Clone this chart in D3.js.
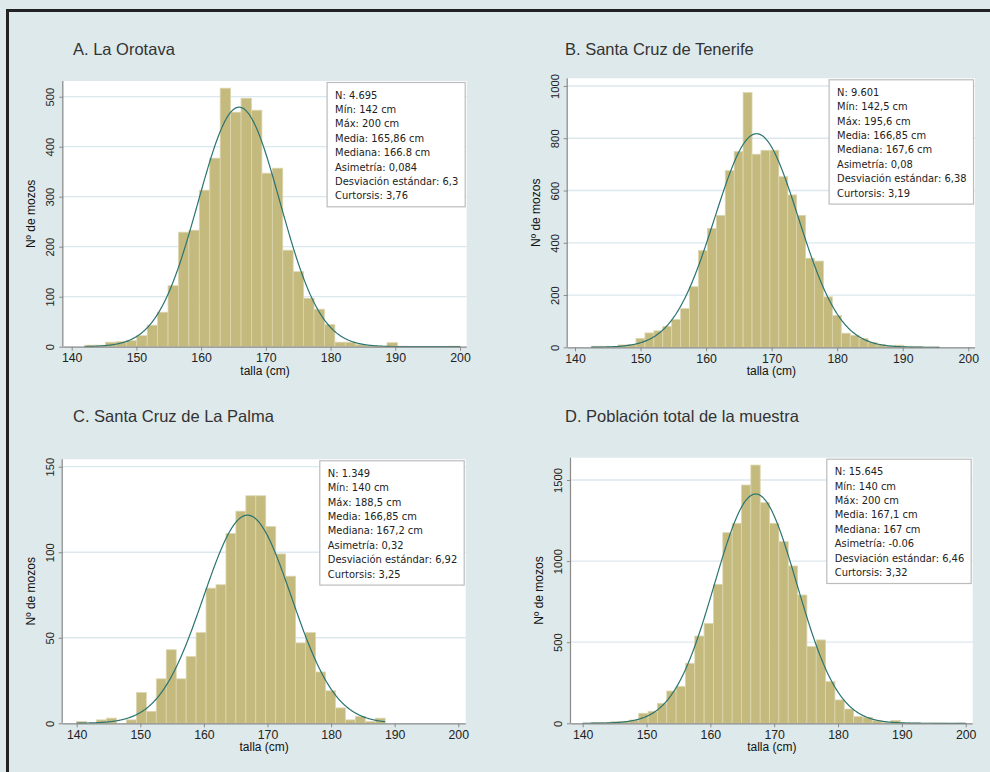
<!DOCTYPE html>
<html>
<head>
<meta charset="utf-8">
<script src="https://cdn.jsdelivr.net/npm/d3@7"></script>
<style>
  body { margin: 0; background: #dee9eb; }
  svg { display: block; }
</style>
</head>
<body>
<div id="chart"></div>
<script>
// datos
const titles = ["A. La Orotava", "B. Santa Cruz de Tenerife", "C. Santa Cruz de La Palma", "D. Población total de la muestra"];

// recuentos por intervalo (de min a max)
const countsA = [3,3,9,10,12,22,43,69,122,229,233,313,377,517,469,497,473,347,357,193,150,97,75,44,9,9,4,2,1,8,1,0,0,0,0,1];
const countsB = [4,4,3,9,11,34,55,63,80,106,148,232,370,455,505,676,749,975,739,754,754,653,583,505,341,330,193,122,54,46,33,18,10,5,8,4,2,1,1];
const countsC = [1,0,2,3,0,2,18,7,26,43,26,39,53,79,81,111,124,133,133,115,99,86,47,53,30,19,9,2,4,1,3];
const countsD = [1,4,4,10,10,20,62,74,123,199,228,370,538,616,857,1175,1233,1469,1592,1360,1233,1120,970,791,473,514,257,144,88,41,37,16,6,18,4,1,1,1,1,0,1];

const minVals = [142, 142.5, 140, 140];
const maxVals = [200, 195.6, 188.5, 200];
const nVals = [4695, 9601, 1349, 15645];
// curva normal superpuesta
const curveMean = [165.86, 167.7, 166.85, 167.1];
const curveSd = [6.3, 6.38, 6.92, 6.46];

const xTicks = [140, 150, 160, 170, 180, 190, 200];
const yTicksA = [0, 100, 200, 300, 400, 500];
const yTicksB = [0, 200, 400, 600, 800, 1000];
const yTicksC = [0, 50, 100, 150];
const yTicksD = [0, 500, 1000, 1500];

const statsA = ["N: 4.695","Mín: 142 cm","Máx: 200 cm","Media: 165,86 cm","Mediana: 166.8 cm","Asimetría: 0,084","Desviación estándar: 6,3","Curtorsis: 3,76"];
const statsB = ["N: 9.601","Mín: 142,5 cm","Máx: 195,6 cm","Media: 166,85 cm","Mediana: 167,6 cm","Asimetría: 0,08","Desviación estándar: 6,38","Curtorsis: 3,19"];
const statsC = ["N: 1.349","Mín: 140 cm","Máx: 188,5 cm","Media: 166,85 cm","Mediana: 167,2 cm","Asimetría: 0,32","Desviación estándar: 6,92","Curtorsis: 3,25"];
const statsD = ["N: 15.645","Mín: 140 cm","Máx: 200 cm","Media: 167,1 cm","Mediana: 167 cm","Asimetría: -0.06","Desviación estándar: 6,46","Curtorsis: 3,32"];

const counts = [countsA, countsB, countsC, countsD];
const yTicks = [yTicksA, yTicksB, yTicksC, yTicksD];
const stats = [statsA, statsB, statsC, statsD];

// posición de cada panel
const layout = [
  {left: 63.3, right: 466.7, top: 81, bottom: 346.7, xa: 71.7, xb: 460, yt: 96.7, tx: 73, ty: 55},
  {left: 567.7, right: 975, top: 78.3, bottom: 347.3, xa: 575, xb: 968.3, yt: 86, tx: 565, ty: 55},
  {left: 62.7, right: 465.7, top: 459.3, bottom: 723.3, xa: 76.7, xb: 458.3, yt: 466.7, tx: 73, ty: 421.7},
  {left: 571, right: 972.7, top: 457.7, bottom: 723.3, xa: 582.7, xb: 965.7, yt: 480, tx: 565, ty: 421.7}
];

const width = 990, height = 772;
const svg = d3.select("#chart").append("svg")
  .attr("width", width)
  .attr("height", height);

svg.append("rect").attr("width", width).attr("height", height).attr("fill", "#dee9eb");

// marco
svg.append("path")
  .attr("d", "M7.5,772 V10.5 H990")
  .attr("fill", "none")
  .attr("stroke", "#222")
  .attr("stroke-width", 3);

const sans = "'Liberation Sans', Arial, sans-serif";
const cond = "'DejaVu Sans Condensed', 'DejaVu Sans', sans-serif";

layout.forEach((L, i) => {
  const g = svg.append("g");
  const data = counts[i];
  const ticks = yTicks[i];
  const binW = (maxVals[i] - minVals[i]) / data.length;

  const x = d3.scaleLinear().domain([140, 200]).range([L.xa, L.xb]);
  const y = d3.scaleLinear().domain([0, ticks[ticks.length - 1]]).range([L.bottom, L.yt]);

  g.append("text")
    .attr("x", L.tx).attr("y", L.ty)
    .attr("font-family", sans)
    .attr("font-size", 16.5)
    .attr("fill", "#333")
    .text(titles[i]);

  g.append("rect")
    .attr("x", L.left).attr("y", L.top)
    .attr("width", L.right - L.left).attr("height", L.bottom - L.top)
    .attr("fill", "#fff");

  // rejilla
  g.selectAll("line.grid")
    .data(ticks.filter(t => t > 0))
    .enter().append("line")
    .attr("class", "grid")
    .attr("x1", L.left).attr("x2", L.right)
    .attr("y1", d => y(d)).attr("y2", d => y(d))
    .attr("stroke", "#dbe8ee")
    .attr("stroke-width", 1.3);

  // barras
  g.selectAll("rect.bar")
    .data(data)
    .enter().append("rect")
    .attr("class", "bar")
    .attr("x", (d, k) => x(minVals[i] + k * binW))
    .attr("width", x(140 + binW) - x(140))
    .attr("y", d => y(d))
    .attr("height", d => L.bottom - y(d))
    .attr("fill", "#c4ba7e")
    .attr("stroke", "#dcd6b0")
    .attr("stroke-width", 0.8);

  // curva normal
  const pts = d3.range(minVals[i], maxVals[i] + 0.001, 0.1);
  const scaleF = nVals[i] * binW / (curveSd[i] * Math.sqrt(2 * Math.PI));
  const line = d3.line()
    .x(d => x(d))
    .y(d => y(scaleF * Math.exp(-0.5 * Math.pow((d - curveMean[i]) / curveSd[i], 2))));
  g.append("path")
    .datum(pts)
    .attr("d", line)
    .attr("fill", "none")
    .attr("stroke", "#2b7470")
    .attr("stroke-width", 1.2);

  // ejes
  const xAxis = g.append("g")
    .attr("transform", `translate(0,${L.bottom})`)
    .call(d3.axisBottom(x).tickValues(xTicks).tickFormat(d3.format("d")).tickSize(4).tickPadding(3).tickSizeOuter(0));
  xAxis.select(".domain").attr("d", `M${L.left},0.5H${L.right}`);
  xAxis.selectAll("text").attr("font-family", sans).attr("font-size", 12.3).attr("fill", "#222");

  const yAxis = g.append("g")
    .attr("transform", `translate(${L.left},0)`)
    .call(d3.axisLeft(y).tickValues(ticks).tickFormat(d3.format("d")).tickSize(4).tickSizeOuter(0));
  yAxis.select(".domain").attr("d", `M-0.5,${L.top}V${L.bottom}`);
  yAxis.selectAll("text")
    .attr("font-family", sans).attr("font-size", 11.3).attr("fill", "#222")
    .attr("text-anchor", "middle")
    .attr("x", null).attr("dy", null)
    .attr("transform", "translate(-9,0) rotate(-90)");

  g.selectAll(".domain").attr("stroke", "#8a8a8a").attr("stroke-width", 1.2);
  g.selectAll(".tick line").attr("stroke", "#8a8a8a");

  g.append("text")
    .attr("x", (L.left + L.right) / 2).attr("y", L.bottom + 28)
    .attr("text-anchor", "middle")
    .attr("font-family", sans).attr("font-size", 12)
    .attr("fill", "#111")
    .text("talla (cm)");

  g.append("text")
    .attr("transform", `translate(${L.left - 28},${(L.top + L.bottom) / 2}) rotate(-90)`)
    .attr("text-anchor", "middle")
    .attr("font-family", sans).attr("font-size", 12)
    .attr("fill", "#111")
    .text("Nº de mozos");

  // cuadro de estadísticos
  const box = g.append("g");
  const txt = box.selectAll("text")
    .data(stats[i])
    .enter().append("text")
    .attr("y", (d, k) => 16.5 + k * 14.4)
    .attr("font-family", cond)
    .attr("font-size", 11)
    .attr("fill", "#222")
    .text(d => d);
  let tw = 0;
  txt.each(function() { tw = Math.max(tw, this.getComputedTextLength()); });
  const bw = tw + 15, bh = 16.5 + 7 * 14.4 + 7;
  const bx = L.right - 2 - bw, by = L.top + 1;
  box.attr("transform", `translate(${bx},${by})`);
  txt.attr("x", 8.5);
  box.insert("rect", "text")
    .attr("x", 0.5).attr("y", 0.5)
    .attr("width", bw).attr("height", bh)
    .attr("fill", "#fff")
    .attr("stroke", "#bcbcbc")
    .attr("stroke-width", 1.2);
});
</script>
</body>
</html>
